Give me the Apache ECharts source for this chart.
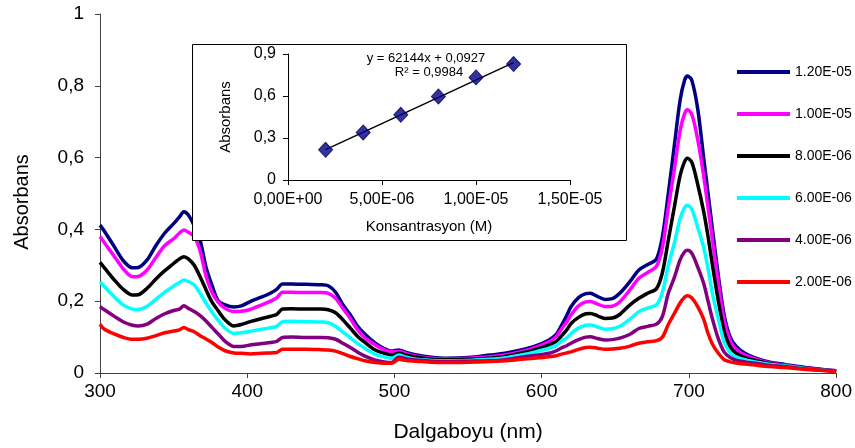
<!DOCTYPE html>
<html>
<head>
<meta charset="utf-8">
<script src="https://cdn.jsdelivr.net/npm/echarts@6/dist/echarts.min.js"></script>
<style>
  html, body { margin: 0; padding: 0; background: #fff; }
  #chart { width: 855px; height: 448px; }
</style>
</head>
<body>
<div id="chart"></div>
<script>
// wavelength grid (nm)
const wavelengths = [300,303,310,316,322,326,332,338,344,350,354,357,360,364,368,372,376,380,385,391,
  396,402,410,416,420,424,430,440,450,455,460,465,470,475,480,487,493,498,503,508,
  515,525,535,550,565,575,586,595,605,610,613,617,620,625,630,633,638,643,648,653,
  660,666,672,678,682,686,690,694,697,699,702,706,710,713,716,720,724,728,732,738,
  745,755,765,780,800];

// absorbance of each concentration
const abs_12e6 = [.412,.395,.350,.312,.293,.294,.315,.355,.390,.416,.435,.449,.440,.410,.370,.295,.245,.203,.190,.184,
  .187,.199,.212,.223,.233,.248,.248,.247,.246,.243,.225,.190,.162,.130,.108,.083,.068,.061,.064,.057,
  .050,.044,.041,.043,.050,.055,.064,.074,.092,.108,.129,.160,.185,.210,.221,.222,.213,.205,.207,.222,
  .255,.287,.302,.318,.380,.500,.630,.760,.815,.827,.815,.735,.600,.500,.400,.270,.160,.100,.075,.055,
  .042,.030,.024,.015,.006];
const abs_10e6 = [.380,.363,.323,.289,.268,.269,.287,.322,.355,.374,.390,.398,.392,.380,.340,.270,.225,.199,.180,.171,
  .172,.177,.190,.200,.209,.225,.225,.224,.224,.222,.208,.180,.152,.120,.098,.078,.065,.059,.060,.054,
  .047,.041,.039,.041,.045,.050,.059,.070,.087,.102,.120,.142,.162,.187,.198,.199,.192,.185,.186,.198,
  .232,.264,.280,.298,.350,.460,.565,.675,.722,.733,.720,.650,.550,.460,.370,.250,.145,.090,.066,.050,
  .039,.028,.022,.014,.006];
const abs_8e6 = [.308,.293,.258,.232,.217,.218,.236,.262,.285,.305,.318,.324,.318,.300,.268,.232,.198,.175,.148,.131,
  .135,.143,.152,.158,.163,.178,.179,.178,.178,.176,.168,.148,.125,.102,.085,.064,.055,.050,.055,.050,
  .044,.038,.037,.038,.041,.046,.055,.064,.078,.088,.101,.120,.138,.155,.165,.166,.159,.152,.153,.163,
  .190,.208,.222,.235,.280,.370,.460,.550,.588,.598,.587,.525,.450,.380,.300,.200,.115,.072,.055,.043,
  .035,.026,.021,.013,.005];
const abs_6e6 = [.254,.241,.211,.189,.178,.177,.186,.205,.225,.242,.252,.259,.255,.245,.222,.195,.170,.148,.125,.110,
  .112,.116,.122,.126,.130,.143,.144,.143,.142,.140,.130,.114,.098,.082,.069,.052,.045,.041,.050,.044,
  .038,.035,.034,.035,.038,.042,.050,.058,.069,.077,.087,.098,.110,.125,.133,.134,.128,.122,.123,.130,
  .150,.171,.181,.190,.225,.300,.360,.430,.460,.467,.456,.405,.350,.290,.220,.150,.085,.057,.045,.037,
  .031,.024,.020,.012,.005];
const abs_4e6 = [.185,.176,.157,.142,.133,.131,.136,.152,.165,.174,.178,.187,.180,.171,.160,.145,.127,.110,.088,.074,
  .074,.078,.082,.085,.088,.099,.100,.099,.099,.098,.094,.083,.071,.058,.047,.036,.031,.029,.044,.040,
  .036,.033,.032,.033,.034,.037,.044,.049,.055,.062,.069,.076,.083,.093,.100,.101,.096,.092,.093,.097,
  .108,.124,.130,.136,.158,.222,.265,.315,.337,.342,.333,.295,.250,.200,.150,.095,.058,.043,.036,.031,
  .027,.021,.018,.011,.005];
const abs_2e6 = [.136,.122,.108,.099,.094,.094,.097,.104,.112,.117,.120,.127,.121,.115,.104,.095,.085,.073,.062,.056,
  .055,.053,.055,.056,.057,.066,.066,.066,.065,.064,.061,.054,.046,.040,.034,.029,.027,.027,.038,.035,
  .033,.030,.029,.030,.032,.034,.038,.041,.045,.048,.052,.056,.059,.066,.071,.072,.069,.066,.067,.069,
  .075,.083,.087,.090,.100,.135,.165,.195,.211,.215,.209,.185,.150,.110,.080,.055,.037,.031,.028,.025,
  .022,.018,.015,.010,.004];

const seriesNames = ['1.20E-05', '1.00E-05', '8.00E-06', '6.00E-06', '4.00E-06', '2.00E-06'];
const seriesColors = ['#000080', '#FF00FF', '#000000', '#00FFFF', '#800080', '#FF0000'];
const seriesValues = [abs_12e6, abs_10e6, abs_8e6, abs_6e6, abs_4e6, abs_2e6];

// calibration inset
const concentrations = [2e-6, 4e-6, 6e-6, 8e-6, 1e-5, 1.2e-5];
const peakAbs = [0.216, 0.340, 0.466, 0.597, 0.733, 0.828];
const trendConc = [2e-6, 1.2e-5];
const trendAbs = [0.217, 0.838];
const equationText = 'y = 62144x + 0,0927';
const r2Text = 'R² = 0,9984';

const FONT = '"Liberation Sans", Arial, sans-serif';
const comma = v => String(v).replace('.', ',');
const sci = v => {
  const parts = Number(v).toExponential(2).split('e');
  const exp = parseInt(parts[1], 10);
  const sign = exp < 0 ? '-' : '+';
  return parts[0].replace('.', ',') + 'E' + sign + String(Math.abs(exp)).padStart(2, '0');
};

const chart = echarts.init(document.getElementById('chart'));

const spectra = seriesNames.map((name, i) => ({
  name: name,
  type: 'line',
  xAxisIndex: 0,
  yAxisIndex: 0,
  data: wavelengths.map((w, j) => [w, seriesValues[i][j]]),
  symbol: 'none',
  smooth: 0.3,
  color: seriesColors[i],
  lineStyle: { width: 3.5, color: seriesColors[i] },
  z: 2
}));

chart.setOption({
  animation: false,
  textStyle: { fontFamily: FONT },
  grid: [
    { left: 100, right: 17, top: 14, bottom: 75 },
    { left: 288, top: 54, width: 282, height: 126, z: 60 }
  ],
  legend: {
    orient: 'vertical',
    left: 737,
    top: 65,
    padding: 0,
    icon: 'rect',
    itemWidth: 53,
    itemHeight: 4,
    itemGap: 28,
    data: seriesNames,
    textStyle: { fontSize: 14, color: '#000', fontFamily: FONT, lineHeight: 14 }
  },
  xAxis: [
    {
      type: 'value', gridIndex: 0, min: 300, max: 800, interval: 100,
      name: 'Dalgaboyu (nm)', nameLocation: 'middle', nameGap: 49,
      nameTextStyle: { fontSize: 21, color: '#000', fontFamily: FONT },
      axisLine: { lineStyle: { color: '#404040', width: 1 } },
      axisTick: { length: 5, lineStyle: { color: '#404040' } },
      axisLabel: { fontSize: 19, color: '#000', margin: 9, fontFamily: FONT },
      splitLine: { show: false }
    },
    {
      type: 'value', gridIndex: 1, min: 0, max: 1.5e-5, interval: 5e-6, z: 60,
      name: 'Konsantrasyon (M)', nameLocation: 'middle', nameGap: 39,
      nameTextStyle: { fontSize: 15, color: '#000', fontFamily: FONT },
      axisLine: { lineStyle: { color: '#000', width: 1 } },
      axisTick: { length: 5, lineStyle: { color: '#000' } },
      axisLabel: { fontSize: 16, color: '#000', margin: 12, formatter: sci, fontFamily: FONT },
      splitLine: { show: false }
    }
  ],
  yAxis: [
    {
      type: 'value', gridIndex: 0, min: 0, max: 1, interval: 0.2,
      axisLine: { show: true, lineStyle: { color: '#404040', width: 1 } },
      axisTick: { show: true, length: 5, lineStyle: { color: '#404040' } },
      axisLabel: { fontSize: 19, color: '#000', margin: 16, formatter: comma, fontFamily: FONT },
      splitLine: { show: false }
    },
    {
      type: 'value', gridIndex: 1, min: 0, max: 0.9, interval: 0.3, z: 60,
      name: 'Absorbans', nameLocation: 'middle', nameGap: 55,
      nameTextStyle: { fontSize: 15, color: '#000', fontFamily: FONT },
      axisLine: { show: true, lineStyle: { color: '#000', width: 1 } },
      axisTick: { show: true, length: 5, lineStyle: { color: '#000' } },
      axisLabel: { fontSize: 16, color: '#000', margin: 12, formatter: comma, fontFamily: FONT },
      splitLine: { show: false }
    }
  ],
  graphic: [
    {
      type: 'text', z: 80, x: 22, y: 202, rotation: Math.PI / 2,
      style: { text: 'Absorbans', fill: '#000', font: '20px ' + FONT, textAlign: 'center', textVerticalAlign: 'middle' }
    },
    {
      type: 'rect', z: 50,
      shape: { x: 192.5, y: 44.5, width: 434, height: 196 },
      style: { fill: '#fff', stroke: '#000', lineWidth: 1 }
    },
    {
      type: 'text', z: 80, x: 426, y: 58,
      style: { text: equationText, fill: '#000', font: '13px ' + FONT, textAlign: 'center', textVerticalAlign: 'middle' }
    },
    {
      type: 'text', z: 80, x: 429, y: 72,
      style: { text: r2Text, fill: '#000', font: '13px ' + FONT, textAlign: 'center', textVerticalAlign: 'middle' }
    }
  ],
  series: spectra.concat([
    {
      name: 'trend',
      type: 'line',
      xAxisIndex: 1, yAxisIndex: 1,
      data: trendConc.map((c, i) => [c, trendAbs[i]]),
      symbol: 'none',
      lineStyle: { color: '#000', width: 1.5 },
      z: 65
    },
    {
      name: 'calibration',
      type: 'scatter',
      xAxisIndex: 1, yAxisIndex: 1,
      data: concentrations.map((c, i) => [c, peakAbs[i]]),
      symbol: 'diamond',
      symbolSize: [14, 15],
      itemStyle: { color: '#000080', borderColor: '#000060', borderWidth: 1 },
      z: 70
    }
  ])
});
</script>
</body>
</html>
